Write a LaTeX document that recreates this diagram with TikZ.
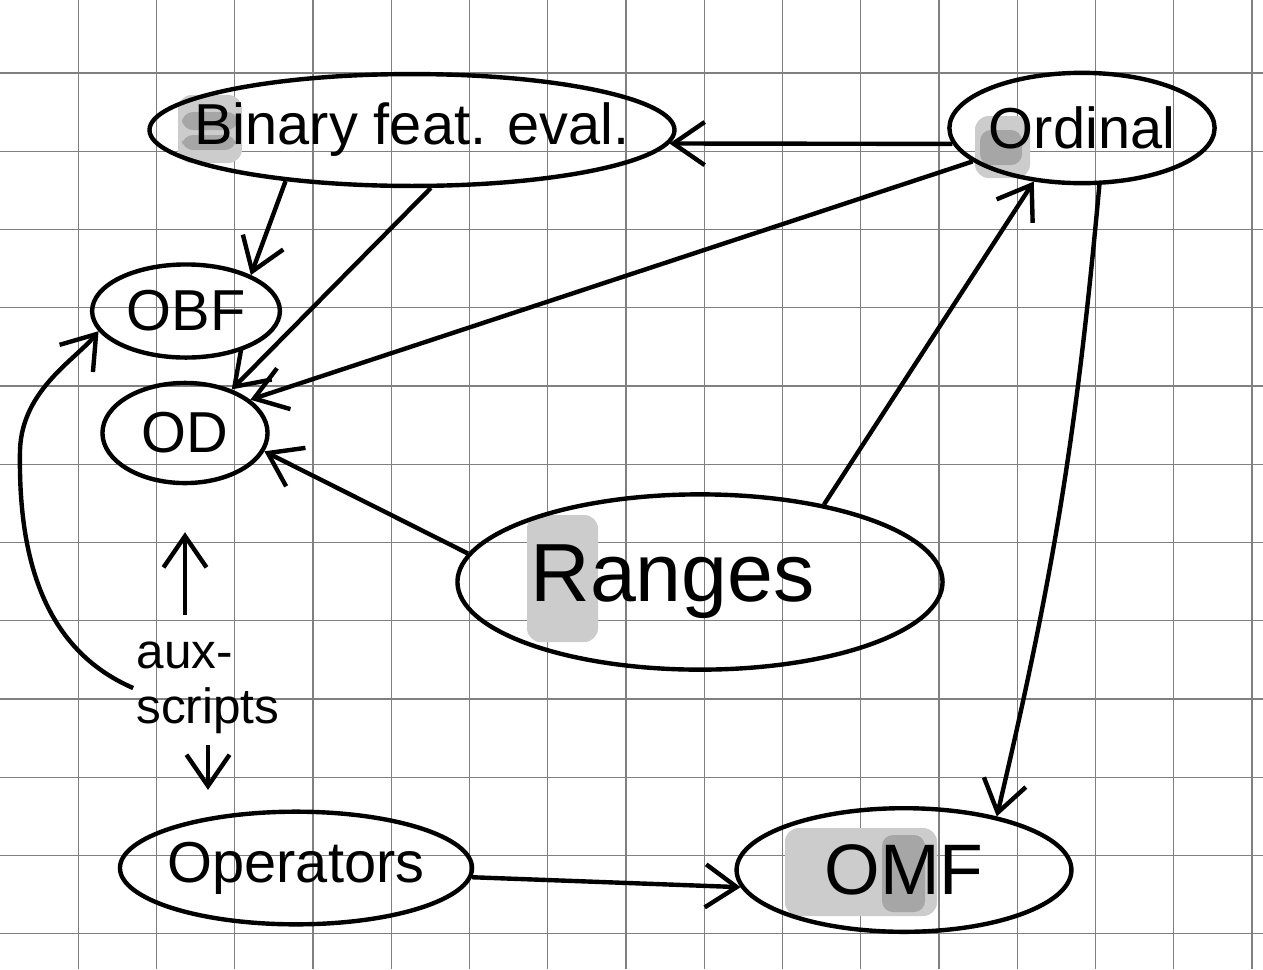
\documentclass[tikz,border=0pt]{standalone}
\usepackage{fontspec}
\setmainfont{Liberation Sans}
\usetikzlibrary{arrows.meta,shapes.geometric}

\newcommand\ovaltext[1]{\makebox[0pt]{#1}}

\begin{document}
\begin{tikzpicture}[x=0.1278mm, y=-0.1278mm,
  every node/.style={font=\fontsize{21}{24}\selectfont},
  oval/.style={draw, ellipse, line width=1.6pt, inner sep=0pt},
  link/.style={-{Straight Barb[length=4mm,width=5.5mm]}, line width=1.6pt},
  gridline/.style={black!50, line width=0.4pt},
  smudge/.style={fill=black!20, rounded corners=5pt},
  darksmudge/.style={fill=black!35, rounded corners=4pt}]
\useasboundingbox (0,0) rectangle (1263,969);
\fill[white] (0,0) rectangle (1263,969);
\foreach \i in {1,...,16} \draw[gridline] (\i*78.25,0) -- (\i*78.25,969);
\foreach \j in {0,...,11} \draw[gridline] (0,73+\j*78.25) -- (1263,73+\j*78.25);
% grey marks behind some letters
\fill[smudge] (178,95) rectangle (242,163);
\fill[darksmudge] (182,112) rectangle (238,130);
\fill[darksmudge] (182,135) rectangle (236,150);
\fill[smudge] (975,116) rectangle (1030,178);
\fill[darksmudge] (980,130) rectangle (1022,165);
\fill[smudge] (527,515) rectangle (598,642);
\fill[smudge] (785,828) rectangle (937,916);
\fill[darksmudge] (882,835) rectangle (925,912);
% nodes
\node[oval, minimum width=67.1mm, minimum height=14.3mm] (bin) at (412,130) {\ovaltext{Binary feat. eval.}};
\node[oval, minimum width=33.9mm, minimum height=14.1mm] (ord) at (1082,128) {\ovaltext{Ordinal}};
\node[oval, minimum width=24mm, minimum height=11.9mm] (obf) at (186,311) {\ovaltext{OBF}};
\node[oval, minimum width=21.1mm, minimum height=12.8mm] (od) at (185,433) {\ovaltext{OD}};
\node[oval, minimum width=62mm, minimum height=22.4mm, font=\fontsize{30}{34}\selectfont] (rng) at (700,582) {\ovaltext{Ranges\hspace{7mm}}};
\node[oval, minimum width=45mm, minimum height=14.4mm] (ops) at (296,868) {\ovaltext{Operators}};
\node[oval, minimum width=42.8mm, minimum height=15.8mm, font=\fontsize{26}{30}\selectfont] (omf) at (904,870) {\ovaltext{OMF}};
\node[align=left, inner sep=1pt, font=\fontsize{18}{20}\selectfont] (aux) at (208,688) {aux-\\scripts};
% connectors
\draw[link] (ord.187) -- (bin.-3);
\draw[link] (bin.202) -- (obf.29);
\draw[link] (bin.288) -- (od.43);
\draw[link] (ord.197) -- (od.27);
\draw[link] (rng.173) -- (od.347);
\draw[link] (rng.32) -- (ord.228);
\draw[link] (ord.287) to[bend left=4] (omf.30);
\draw[link] (ops.-3) -- (omf.186);
\draw[link, shorten <=3mm, shorten >=6mm] (aux.north -| od.south) -- (od.south);
\draw[link, shorten <=1mm, shorten >=2.5mm] (aux.south) -- (aux.south |- ops.north);
\draw[link] (aux.west) .. controls (45,650) and (18,560) .. (20,450) .. controls (22,390) and (75,360) .. (obf.193);
\end{tikzpicture}
\end{document}
